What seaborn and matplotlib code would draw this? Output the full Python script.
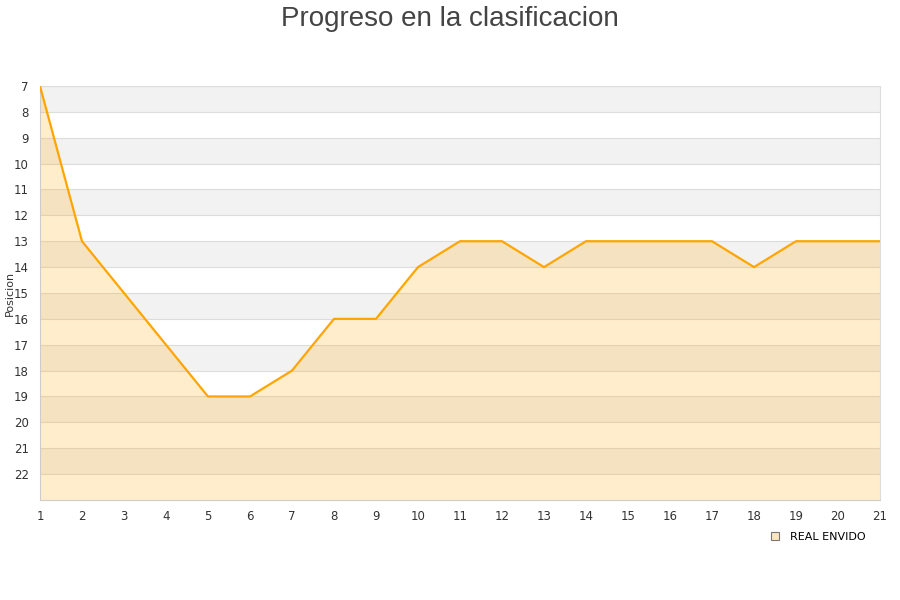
import pandas as pd
import matplotlib.pyplot as plt
import seaborn as sns
from matplotlib.lines import Line2D

# Data
jornadas = list(range(1, 22))
posicion = [7, 13, 15, 17, 19, 19, 18, 16, 16, 14, 13, 13, 14, 13, 13, 13, 13, 14, 13, 13, 13]
equipo = 'REAL ENVIDO'

df = pd.DataFrame({'Jornada': jornadas, 'Posicion': posicion})

sns.set_style('white')
plt.rcParams['font.family'] = ['DejaVu Sans']

fig = plt.figure(figsize=(9, 6), dpi=100)
ax = fig.add_axes([0.0444, 0.1667, 0.9334, 0.69])

# alternating bands
for y0 in range(7, 23, 2):
    ax.axhspan(y0, y0 + 1, color='#f2f2f2', lw=0, zorder=0)
for y in range(7, 23):
    ax.axhline(y, color='#dddddd', lw=0.8, zorder=1)

ax.fill_between(df['Jornada'], df['Posicion'], 23, color='#ffa500', alpha=0.2, lw=0, zorder=2)
sns.lineplot(data=df, x='Jornada', y='Posicion', color='#ffa500', lw=1.6, ax=ax, zorder=3)

ax.set_xlim(1, 21)
ax.set_ylim(23, 7)
ax.set_xticks(jornadas)
ax.set_yticks(range(7, 23))
ax.tick_params(axis='both', labelsize=8.5, labelcolor='#333333', length=0)
ax.tick_params(axis='y', pad=8)
ax.tick_params(axis='x', pad=7)
ax.set_xlabel('')
ax.set_ylabel('Posicion', fontsize=8, color='#333333')
ax.yaxis.set_label_coords(-0.03, 0.5)
for s in ax.spines.values():
    s.set_color('#dddddd')
    s.set_linewidth(0.8)
ax.spines['left'].set_color('#cccccc')
ax.spines['bottom'].set_color('#cccccc')

fig.suptitle('Progreso en la clasificacion', y=0.99, fontsize=20, color='#444444',
             family=['Liberation Sans', 'DejaVu Sans'])

handle = Line2D([], [], marker='s', linestyle='none', markersize=6,
                markerfacecolor='#fde6c0', markeredgecolor='#777777', markeredgewidth=0.8)
fig.legend([handle], [equipo], loc='center left', bbox_to_anchor=(0.838, 0.105),
           frameon=False, fontsize=8, handletextpad=0.3, labelcolor='black')

fig.savefig('out.png', dpi=100)
